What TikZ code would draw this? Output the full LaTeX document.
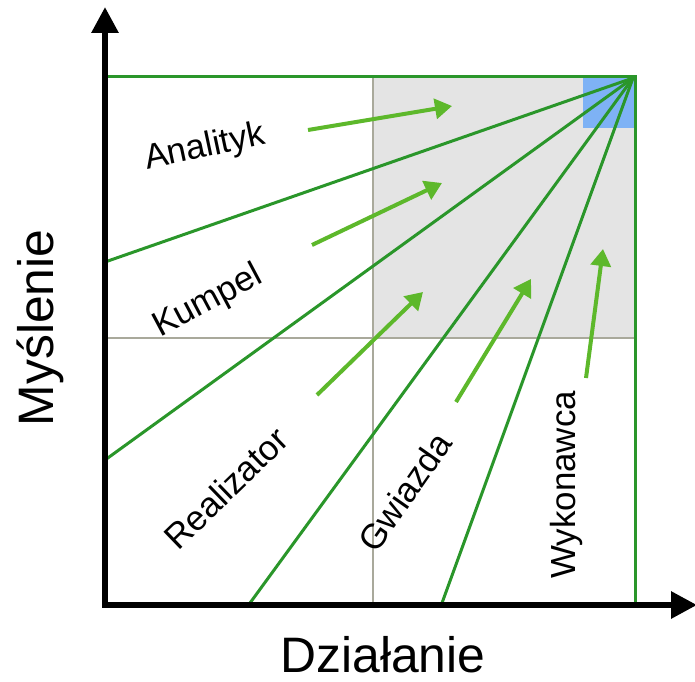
\documentclass[tikz,border=0pt]{standalone}
\usepackage{fontspec}
\setmainfont{Liberation Sans}
\usetikzlibrary{arrows.meta}
\definecolor{fangreen}{HTML}{2A962A}
\definecolor{pushgreen}{HTML}{5DB82B}
\definecolor{gridgray}{HTML}{A9A99B}
\definecolor{fillgray}{HTML}{E4E4E4}
\definecolor{boxblue}{HTML}{7EB2F5}
\begin{document}
\begin{tikzpicture}[x=1bp,y=-1bp,
	fan/.style={fangreen,line width=3bp},
	push/.style={pushgreen,line width=4bp,-{Triangle[length=17bp,width=20bp]}},
	role/.style={font=\fontsize{35}{40}\selectfont},
	axislabel/.style={font=\fontsize{50}{54}\selectfont}]
	\useasboundingbox (0,0) rectangle (695,682);
	\fill[fillgray] (373,77) rectangle (635,338);
	\fill[boxblue] (583,77) rectangle (635,128);
	\draw[gridgray,line width=2bp] (373,77) -- (373,603);
	\draw[gridgray,line width=2bp] (105,338) -- (635,338);
	% corner where all lines meet
	\coordinate (top) at (633,78);
	\coordinate (a) at (105,262);
	\coordinate (b) at (105,460);
	\coordinate (c) at (250,603);
	\coordinate (d) at (442,603);
	\draw[fan] (105,77) -- (635,77) -- (635,603);
	\foreach \e in {a,b,c,d}
		\draw[fan] (top) -- (\e);
	% axes
	\coordinate (o) at (105,605);
	\coordinate (ytip) at (105,7);
	\coordinate (xtip) at (697,605);
	\draw[line width=6bp,{Triangle[length=26bp,width=26bp]}-{Triangle[length=26bp,width=26bp]}]
		(ytip) -- (o) -- (xtip);
	\node[axislabel,rotate=90] (think) at (40,328) {Myślenie};
	\node[axislabel] (act) at (383,655) {Działanie};
	% roles
	\node[role,rotate=12] (analityk) at (205,148) {Analityk};
	\node[role,rotate=28] (kumpel) at (208,302) {Kumpel};
	\node[role,rotate=44] (realizator) at (226,488) {Realizator};
	\node[role,rotate=55] (gwiazda) at (405,492) {Gwiazda};
	\node[role,rotate=90] (wykonawca) at (566,485) {Wykonawca};
	\coordinate (p1) at (308,130); \coordinate (q1) at (452,106);
	\coordinate (p2) at (312,245); \coordinate (q2) at (442,183);
	\coordinate (p3) at (317,395); \coordinate (q3) at (423,292);
	\coordinate (p4) at (456,402); \coordinate (q4) at (531,279);
	\coordinate (p5) at (586,378); \coordinate (q5) at (603,249);
	\foreach \i in {1,...,5}
		\draw[push] (p\i) -- (q\i);
\end{tikzpicture}
\end{document}
